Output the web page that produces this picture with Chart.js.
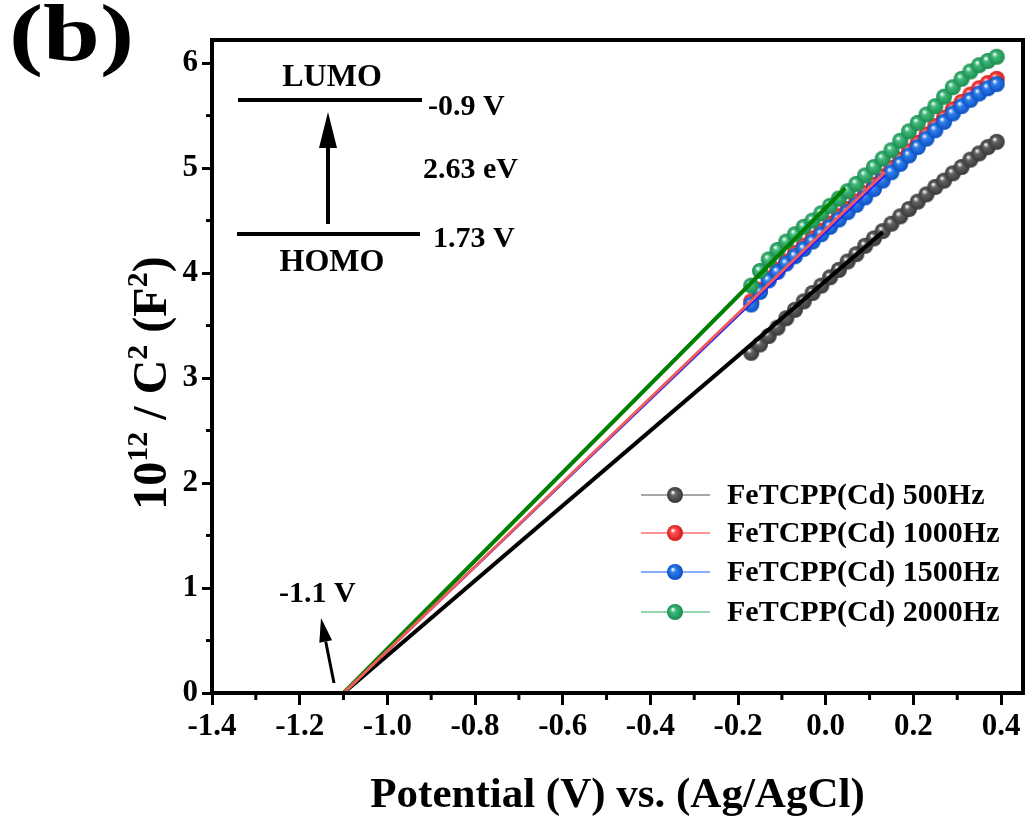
<!DOCTYPE html>
<html lang="en">
<head>
    <meta charset="UTF-8">
    <title>Mott-Schottky FeTCPP(Cd)</title>
    <script src="https://cdn.jsdelivr.net/npm/chart.js"></script>
    <style>
        body { margin: 0; background: #fff; }
    </style>
</head>
<body>
    <canvas id="msChart" width="1032" height="822"></canvas>

    <script>
        // potential (V vs Ag/AgCl) of the measured points
        const potential = [-0.17, -0.15, -0.13, -0.11, -0.09, -0.07, -0.05, -0.03, -0.01, 0.01,
            0.03, 0.05, 0.07, 0.09, 0.11, 0.13, 0.15, 0.17, 0.19, 0.21,
            0.23, 0.25, 0.27, 0.29, 0.31, 0.33, 0.35, 0.37, 0.39];

        // 10^12 / C^2 for each frequency
        const c500 = [3.24, 3.32, 3.40, 3.48, 3.57, 3.65, 3.73, 3.81, 3.88, 3.96,
            4.03, 4.11, 4.18, 4.26, 4.33, 4.40, 4.47, 4.54, 4.61, 4.68,
            4.75, 4.82, 4.88, 4.95, 5.01, 5.08, 5.14, 5.20, 5.25];
        const c1000 = [3.73, 3.84, 3.95, 4.03, 4.11, 4.19, 4.26, 4.33, 4.40, 4.47,
            4.54, 4.61, 4.68, 4.76, 4.84, 4.92, 5.00, 5.08, 5.16, 5.24,
            5.32, 5.40, 5.48, 5.56, 5.63, 5.70, 5.76, 5.81, 5.85];
        const c1500 = [3.70, 3.82, 3.93, 4.01, 4.09, 4.16, 4.23, 4.30, 4.37, 4.44,
            4.51, 4.58, 4.65, 4.72, 4.80, 4.88, 4.96, 5.04, 5.12, 5.20,
            5.28, 5.36, 5.44, 5.52, 5.59, 5.65, 5.71, 5.76, 5.80];
        const c2000 = [3.88, 4.02, 4.13, 4.22, 4.30, 4.37, 4.44, 4.50, 4.57, 4.64,
            4.71, 4.78, 4.85, 4.93, 5.01, 5.09, 5.17, 5.26, 5.35, 5.43,
            5.51, 5.59, 5.68, 5.77, 5.85, 5.92, 5.98, 6.02, 6.06];

        // linear fits extrapolated to the flat band potential
        const fit500X = [-1.1, 0.13],   fit500Y = [0, 4.39];
        const fit1000X = [-1.1, 0.135], fit1000Y = [0, 4.96];
        const fit1500X = [-1.1, 0.135], fit1500Y = [0, 4.93];
        const fit2000X = [-1.1, 0.045], fit2000Y = [0, 4.81];

        const seriesNames = ["FeTCPP(Cd) 500Hz", "FeTCPP(Cd) 1000Hz", "FeTCPP(Cd) 1500Hz", "FeTCPP(Cd) 2000Hz"];

        // tick labels
        const xTicks = [-1.4, -1.2, -1.0, -0.8, -0.6, -0.4, -0.2, 0.0, 0.2, 0.4];
        const xMinor = [-1.3, -1.1, -0.9, -0.7, -0.5, -0.3, -0.1, 0.1, 0.3];
        const yTicks = [0, 1, 2, 3, 4, 5, 6];
        const yMinor = [0.5, 1.5, 2.5, 3.5, 4.5, 5.5];

        const FONT = "'Liberation Serif', 'Times New Roman', serif";

        // shaded ball marker
        function makeBall(color, dark, r) {
            const size = 2 * r + 2;
            const c = document.createElement("canvas");
            c.width = size; c.height = size;
            const g = c.getContext("2d");
            const cx = size / 2, cy = size / 2;
            const grad = g.createRadialGradient(cx - r * 0.3, cy - r * 0.35, r * 0.05, cx, cy, r);
            grad.addColorStop(0, "#ffffff");
            grad.addColorStop(0.3, color);
            grad.addColorStop(1, dark);
            g.fillStyle = grad;
            g.beginPath();
            g.arc(cx, cy, r, 0, Math.PI * 2);
            g.fill();
            return c;
        }

        const styles = [
            { ball: makeBall("#626262", "#383838", 8), line: "#8a8a8a", fit: "#000000", fitW: 4 },
            { ball: makeBall("#ff5050", "#d01818", 8), line: "#ff7070", fit: "#f05a5a", fitW: 3 },
            { ball: makeBall("#2f7fec", "#0b50c0", 8), line: "#6090ff", fit: "#2020ff", fitW: 2 },
            { ball: makeBall("#40bb7c", "#1b8a50", 8), line: "#70c898", fit: "#008000", fitW: 4 }
        ];

        function toPoints(xs, ys) {
            return xs.map((x, i) => ({ x: x, y: ys[i] }));
        }

        const pointSets = [c500, c1000, c1500, c2000];
        const fits = [[fit500X, fit500Y], [fit1000X, fit1000Y], [fit1500X, fit1500Y], [fit2000X, fit2000Y]];
        const pointOrder = [7, 6, 5, 4];
        const fitOrder = [3, 0, 2, 1];

        let datasets = [];
        pointSets.forEach((ys, i) => {
            datasets.push({
                label: seriesNames[i],
                data: toPoints(potential, ys),
                showLine: true,
                borderColor: styles[i].line,
                borderWidth: 1,
                pointStyle: styles[i].ball,
                pointRadius: 8,
                order: pointOrder[i]
            });
        });
        fits.forEach((f, i) => {
            datasets.push({
                label: seriesNames[i] + " fit",
                data: toPoints(f[0], f[1]),
                showLine: true,
                borderColor: styles[i].fit,
                borderWidth: styles[i].fitW,
                pointRadius: 0,
                order: fitOrder[i]
            });
        });

        // text with superscripts, centered at (0,0) in current transform
        function drawRich(ctx, parts, size, supSize, rise) {
            let total = 0;
            parts.forEach(p => {
                ctx.font = "bold " + (p[1] ? supSize : size) + "px " + FONT;
                total += ctx.measureText(p[0]).width;
            });
            let x = -total / 2;
            ctx.textAlign = "left";
            ctx.textBaseline = "alphabetic";
            parts.forEach(p => {
                ctx.font = "bold " + (p[1] ? supSize : size) + "px " + FONT;
                ctx.fillText(p[0], x, p[1] ? size * 0.35 - rise : size * 0.35);
                x += ctx.measureText(p[0]).width;
            });
        }

        function arrow(ctx, x1, y1, x2, y2, headLen, headW, lw) {
            const ang = Math.atan2(y2 - y1, x2 - x1);
            const bx = x2 - headLen * Math.cos(ang), by = y2 - headLen * Math.sin(ang);
            ctx.lineWidth = lw;
            ctx.beginPath();
            ctx.moveTo(x1, y1);
            ctx.lineTo(bx, by);
            ctx.stroke();
            ctx.beginPath();
            ctx.moveTo(x2, y2);
            ctx.lineTo(bx + headW / 2 * Math.sin(ang), by - headW / 2 * Math.cos(ang));
            ctx.lineTo(bx - headW / 2 * Math.sin(ang), by + headW / 2 * Math.cos(ang));
            ctx.closePath();
            ctx.fill();
        }

        const decor = {
            id: "decor",
            afterDraw(chart) {
                const ctx = chart.ctx;
                const a = chart.chartArea;
                const xs = chart.scales.x, ys = chart.scales.y;
                ctx.save();
                ctx.strokeStyle = "#000";
                ctx.fillStyle = "#000";

                // frame
                ctx.lineWidth = 4;
                ctx.strokeRect(a.left, a.top, a.right - a.left, a.bottom - a.top);

                // minor ticks
                ctx.lineWidth = 3;
                xMinor.forEach(v => {
                    const px = xs.getPixelForValue(v);
                    ctx.beginPath(); ctx.moveTo(px, a.bottom); ctx.lineTo(px, a.bottom + 7); ctx.stroke();
                });
                yMinor.forEach(v => {
                    const py = ys.getPixelForValue(v);
                    ctx.beginPath(); ctx.moveTo(a.left, py); ctx.lineTo(a.left - 6, py); ctx.stroke();
                });

                // panel label
                ctx.save();
                ctx.translate(9, 60);
                ctx.scale(1.28, 1);
                ctx.font = "bold 80px " + FONT;
                ctx.textAlign = "left";
                ctx.textBaseline = "alphabetic";
                ctx.fillText("(b)", 0, 0);
                ctx.restore();

                // axis titles
                ctx.font = "bold 43px " + FONT;
                ctx.textAlign = "center";
                ctx.textBaseline = "middle";
                ctx.fillText("Potential (V) vs. (Ag/AgCl)", (a.left + a.right) / 2, 796);

                ctx.save();
                ctx.translate(149, 383);
                ctx.rotate(-Math.PI / 2);
                drawRich(ctx, [["10", false], ["12", true], [" / C", false], ["2", true], [" (F", false], ["2", true], [")", false]], 48, 30, 19);
                ctx.restore();

                // band diagram inset
                ctx.lineWidth = 4;
                ctx.beginPath(); ctx.moveTo(238, 100); ctx.lineTo(422, 100); ctx.stroke();
                ctx.beginPath(); ctx.moveTo(237, 234); ctx.lineTo(420, 234); ctx.stroke();
                arrow(ctx, 328, 224, 328, 112, 36, 18, 4);
                ctx.font = "bold 32px " + FONT;
                ctx.textAlign = "center";
                ctx.fillText("LUMO", 332, 78);
                ctx.fillText("HOMO", 332, 263);
                ctx.font = "bold 30px " + FONT;
                ctx.textAlign = "left";
                ctx.fillText("-0.9 V", 428, 107);
                ctx.fillText("2.63 eV", 423, 170);
                ctx.fillText("1.73 V", 433, 239);

                // flat band marker
                arrow(ctx, 334, 683, 321, 618, 24, 13, 3);
                ctx.fillText("-1.1 V", 279, 594);

                // legend
                const rows = [495, 533, 572, 612];
                ctx.font = "bold 30px " + FONT;
                ctx.textBaseline = "middle";
                rows.forEach((ry, i) => {
                    ctx.strokeStyle = styles[i].line;
                    ctx.lineWidth = 1.5;
                    ctx.beginPath(); ctx.moveTo(641, ry); ctx.lineTo(710, ry); ctx.stroke();
                    const b = styles[i].ball;
                    ctx.drawImage(b, 675 - b.width / 2, ry - b.height / 2);
                    ctx.fillStyle = "#000";
                    ctx.fillText(seriesNames[i], 727, ry + 1);
                });
                ctx.restore();
            }
        };

        const tickFont = { family: FONT, weight: "bold", size: 31 };

        new Chart(document.getElementById("msChart"), {
            type: "scatter",
            data: { datasets: datasets },
            options: {
                responsive: false,
                animation: false,
                devicePixelRatio: 1,
                layout: { padding: { top: 40, right: 5, left: 0, bottom: 0 } },
                plugins: {
                    legend: { display: false },
                    tooltip: { enabled: false }
                },
                scales: {
                    x: {
                        type: "linear",
                        min: -1.4,
                        max: 0.45,
                        afterBuildTicks: s => { s.ticks = xTicks.map(v => ({ value: v })); },
                        afterFit: s => { s.height = 129; },
                        ticks: {
                            font: tickFont,
                            color: "#000",
                            padding: 3,
                            maxRotation: 0,
                            autoSkip: false,
                            callback: v => Number(v).toFixed(1)
                        },
                        grid: { drawOnChartArea: false, tickLength: 12, tickWidth: 3, color: "#000" },
                        border: { display: true, width: 4, color: "#000" }
                    },
                    y: {
                        type: "linear",
                        min: 0,
                        max: 6.22,
                        afterBuildTicks: s => { s.ticks = yTicks.map(v => ({ value: v })); },
                        afterFit: s => { s.width = 212; },
                        ticks: {
                            font: tickFont,
                            color: "#000",
                            padding: 4,
                            autoSkip: false,
                            callback: v => String(v)
                        },
                        grid: { drawOnChartArea: false, tickLength: 10, tickWidth: 3, color: "#000" },
                        border: { display: true, width: 4, color: "#000" }
                    }
                }
            },
            plugins: [decor]
        });
    </script>
</body>
</html>
